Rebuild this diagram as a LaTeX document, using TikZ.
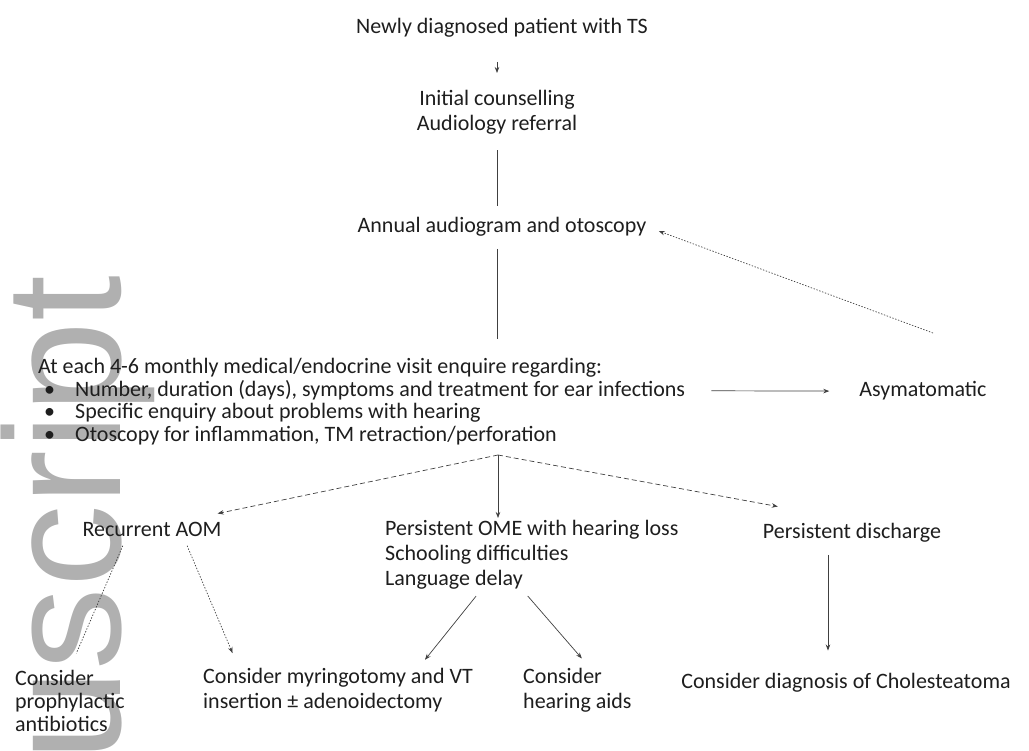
\documentclass[tikz,border=0pt]{standalone}
\usepackage{fontspec}
\setmainfont{Carlito}
\newfontfamily\wmfont{Liberation Sans}
\usetikzlibrary{arrows.meta}
\definecolor{wmgray}{RGB}{176,176,176}
\definecolor{ink}{RGB}{30,30,30}
\tikzset{
  txt/.style={inner sep=2pt, text=ink},
  plain/.style={draw=ink!85, line width=0.7pt},
  flow/.style={plain, -{Stealth[length=6pt,width=4.5pt]}},
  dashflow/.style={flow, dash pattern=on 5pt off 3pt},
  dotline/.style={plain, dash pattern=on 1.4pt off 1.6pt},
  dotflow/.style={dotline, -{Stealth[length=6pt,width=4.5pt]}},
}
\newcommand{\bul}{\makebox[31pt][l]{\textbullet}}

\begin{document}
\begin{tikzpicture}[x=1pt, y=-1pt, font=\fontsize{22}{25}\selectfont]
  \useasboundingbox (0,0) rectangle (1029,751);
  \begin{scope}
    \clip (0,0) rectangle (1029,751);
    \node[rotate=90, anchor=base west, inner sep=0, text=wmgray,
      font=\wmfont\fontsize{165}{165}\selectfont] (wm) at (120,762) {uscript};
  \end{scope}

  \node[txt, anchor=base] (top) at (502,34) {Newly diagnosed patient with TS};
  \node[txt, anchor=north, align=center] (init) at (497,88) {Initial counselling\\Audiology referral};
  \node[txt, anchor=base] (annual) at (502,233) {Annual audiogram and otoscopy};

  \node[txt, anchor=base west] (visit) at (36,374) {At each 4-6 monthly medical/endocrine visit enquire regarding:};
  \node[txt, anchor=base west] (bone) at (42,397) {\bul Number, duration (days), symptoms and treatment for ear infections};
  \node[txt, anchor=base west] (btwo) at (42,419) {\bul Specific enquiry about problems with hearing};
  \node[txt, anchor=base west] (bthree) at (42,442) {\bul Otoscopy for inflammation, TM retraction/perforation};
  \node[txt, anchor=base] (asym) at (923,397) {Asymatomatic};

  \node[txt, anchor=base] (aom) at (152,536) {Recurrent AOM};
  \node[txt, anchor=north west, align=left] (ome) at (383,518) {Persistent OME with hearing loss\\Schooling difficulties\\Language delay};
  \node[txt, anchor=base] (disch) at (852,538) {Persistent discharge};

  \node[txt, anchor=north west, align=left, font=\fontsize{22}{23}\selectfont] (proph) at (13,668) {Consider\\prophylactic\\antibiotics};
  \node[txt, anchor=north west, align=left] (myr) at (201,666) {Consider myringotomy and VT\\insertion ± adenoidectomy};
  \node[txt, anchor=north west, align=left] (aids) at (521,666) {Consider\\hearing aids};
  \node[txt, anchor=base] (chol) at (846,688) {Consider diagnosis of Cholesteatoma};

  \coordinate (asymtop) at (933,333);
  \coordinate (fork) at (498,455);

  \draw[flow, shorten <=22pt, shorten >=15pt] (init.north |- top.south) -- (init.north);
  \draw[plain, shorten <=14pt, shorten >=10pt] (init.south) -- (init.south |- annual.north);
  \draw[dotflow, shorten >=11pt] (asymtop) -- (annual.east);
  \draw[plain, shorten <=10pt, shorten >=18pt] (init.south |- annual.south) -- (init.south |- visit.north);
  \draw[flow, shorten <=24pt, shorten >=28pt] (bone.east) -- (asym.west);

  \draw[flow] (fork) -- (fork |- ome.north);
  \draw[dashflow] (fork) -- ([xshift=-6pt, yshift=6pt]aom.north east);
  \draw[dashflow] (fork) -- ([xshift=17pt, yshift=14pt]disch.north west);

  \draw[dotline, shorten <=8pt, shorten >=16pt] ([xshift=-26pt]aom.south) -- (proph.north);
  \draw[dotflow, shorten <=8pt, shorten >=14pt] ([xshift=32pt]aom.south) -- ([xshift=37pt]myr.north west);
  \draw[flow, shorten <=6pt, shorten >=8pt] ([xshift=-52pt]ome.south) -- ([xshift=-55pt]myr.north east);
  \draw[flow, shorten <=6pt, shorten >=10pt] ([xshift=-8pt]ome.south) -- ([xshift=11pt]aids.north);
  \draw[flow, shorten <=11pt, shorten >=20pt] ([xshift=-24pt]disch.south) -- ([xshift=-18pt]chol.north);
\end{tikzpicture}
\end{document}
